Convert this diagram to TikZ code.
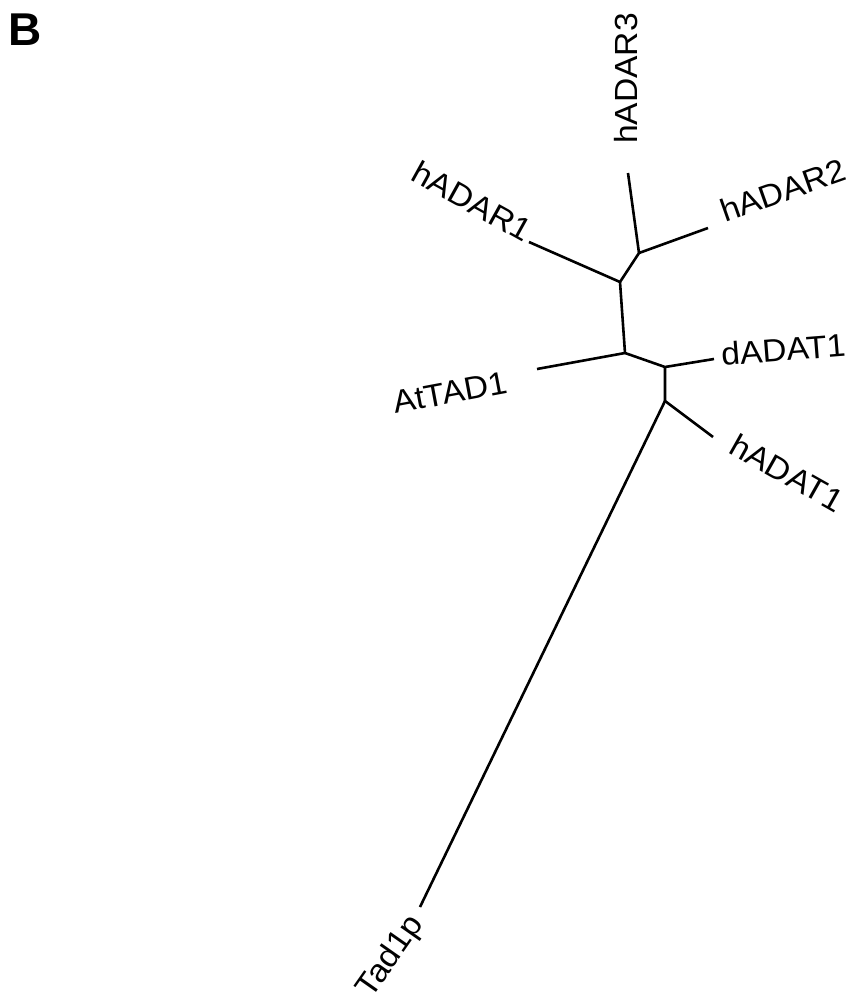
\documentclass[tikz,border=0pt]{standalone}
\usepackage{fontspec}
\setmainfont{Liberation Sans}
\usepackage{graphicx}
\tikzset{
  branch/.style={line width=2.6pt, line cap=butt, line join=miter},
  leaflabel/.style={inner sep=0pt, font=\fontsize{32}{32}\selectfont},
}
\newcommand{\wlab}[1]{\scalebox{1.05}[1]{#1}}
\begin{document}
\begin{tikzpicture}[x=1pt,y=-1pt]
\useasboundingbox (0,0) rectangle (858,996);
\node[inner sep=0pt, anchor=base west, font=\fontsize{46}{46}\selectfont\bfseries] (panel) at (8.5,45) {B};
% internal nodes
\coordinate (A) at (639,253);
\coordinate (Bn) at (620,282);
\coordinate (C) at (625,353);
\coordinate (D) at (665,367);
\coordinate (E) at (665,401);
% leaf ends
\coordinate (l3) at (628,173);
\coordinate (l2) at (708,228);
\coordinate (l1) at (529,242);
\coordinate (lat) at (537,369);
\coordinate (ld) at (714,359);
\coordinate (lh) at (713,437);
\coordinate (lt) at (420,907);
% branches
\draw[branch] (l3) -- (A) -- (l2);
\draw[branch] (A) -- (Bn) -- (l1);
\draw[branch] (Bn) -- (C) -- (lat);
\draw[branch] (C) -- (D) -- (ld);
\draw[branch] (D) -- (E) -- (lh);
\draw[branch] (E) -- (lt);
% labels
\node[leaflabel, rotate=90, anchor=base west] (tADAR3) at (637,144) {\wlab{hADAR3}};
\node[leaflabel, rotate=19.5, anchor=base west] (tADAR2) at (725,223) {\wlab{hADAR2}};
\node[leaflabel, rotate=-29, anchor=base east] (tADAR1) at (524,243) {\wlab{hADAR1}};
\node[leaflabel, rotate=10.6, anchor=base west] (tAtTAD) at (395,414) {\wlab{AtTAD1}};
\node[leaflabel, rotate=4.5, anchor=base west] (tdADAT) at (722,366) {\wlab{dADAT1}};
\node[leaflabel, rotate=-29.4, anchor=base west] (thADAT) at (727,452) {\wlab{hADAT1}};
\node[leaflabel, rotate=55, anchor=base east] (tTad) at (424,924) {\wlab{Tad1p}};
\end{tikzpicture}
\end{document}
